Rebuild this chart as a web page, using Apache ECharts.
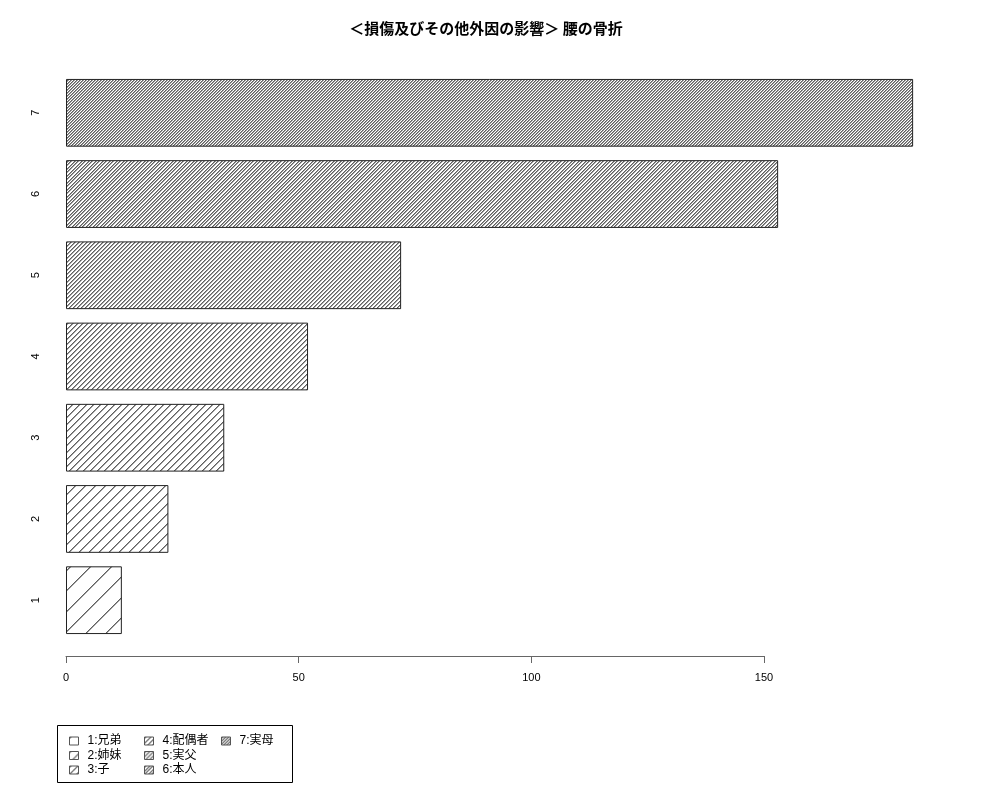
<!DOCTYPE html>
<html>
<head>
<meta charset="utf-8">
<script src="https://cdn.jsdelivr.net/npm/echarts@6/dist/echarts.min.js"></script>
<style>html,body{margin:0;padding:0;background:#fff}#c{width:1000px;height:800px}</style>
</head>
<body>
<div id="c"></div>
<script>
const titleText = '＜損傷及びその他外因の影響＞ 腰の骨折';
const categories = ['1', '2', '3', '4', '5', '6', '7'];
const values = [12, 22, 34, 52, 72, 153, 182];
const legendLabels = ['1:兄弟', '2:姉妹', '3:子', '4:配偶者', '5:実父', '6:本人', '7:実母'];
const xTicks = [0, 50, 100, 150];

// hatch densities (lines per inch) — styling only
const hatchDensity = [5, 10, 15, 20, 25, 30, 35];

// pixel-exact "/" hatch tile, emulating an antialiased 1px line (2 grey pixels per row)
function makeHatch(density) {
  const h = 72 / density * Math.SQRT2;
  let T, n;
  if (Math.abs(h - Math.round(h)) < 0.3) { T = Math.round(h); n = 1; }
  else { T = Math.round(2 * h); n = 2; }
  const pos = new Set();
  for (let k = 0; k < n; k++) pos.add(Math.round(k * T / n) % T);
  const cv = document.createElement('canvas');
  cv.width = T; cv.height = T;
  const ctx = cv.getContext('2d');
  const img = ctx.createImageData(T, T);
  for (let y = 0; y < T; y++) {
    for (let x = 0; x < T; x++) {
      const d = (x + y) % T;
      let v = 255;
      if (pos.has(d)) v = 95;
      else if (pos.has((d - 1 + T) % T)) v = 160;
      const i = (y * T + x) * 4;
      img.data[i] = v; img.data[i + 1] = v; img.data[i + 2] = v; img.data[i + 3] = 255;
    }
  }
  ctx.putImageData(img, 0, 0);
  return cv;
}

const series = legendLabels.map((name, i) => ({
  name: name,
  type: 'bar',
  xAxisIndex: 0,
  yAxisIndex: 0,
  barWidth: '83.4%',
  barGap: '-100%',
  silent: true,
  itemStyle: {
    color: { image: makeHatch(hatchDensity[i]), repeat: 'repeat' },
    borderColor: '#222',
    borderWidth: 1
  },
  data: categories.map((c, j) => (j === i ? values[i] : null))
}));

const font = 'Liberation Sans, Arial, Noto Sans CJK JP, sans-serif';
const legendBase = {
  orient: 'vertical',
  top: 729,
  icon: 'rect',
  itemWidth: 9,
  itemHeight: 8,
  itemGap: 0.5,
  selectedMode: false,
  itemStyle: { borderColor: '#555', borderWidth: 1 },
  textStyle: { fontFamily: font, fontSize: 12, color: '#000', lineHeight: 14, padding: [0, 0, 0, 4] }
};

const chart = echarts.init(document.getElementById('c'));
chart.setOption({
  animation: false,
  backgroundColor: '#fff',
  title: {
    text: titleText,
    left: 481,
    textAlign: 'center',
    top: 16,
    textStyle: { fontFamily: 'Noto Sans CJK JP, sans-serif', fontSize: 15, fontWeight: 'bold', color: '#000' }
  },
  grid: [
    { left: 66, right: 53, top: 72.2, bottom: 159.2 },
    { left: 66, right: 236, top: 57, bottom: 144 }
  ],
  xAxis: [
    { gridIndex: 0, type: 'value', min: 0, max: 189.28, show: false },
    {
      gridIndex: 1, type: 'value', min: xTicks[0], max: xTicks[xTicks.length - 1], interval: 50,
      axisLine: { show: true, lineStyle: { color: '#666', width: 1 } },
      axisTick: { show: true, length: 7, lineStyle: { color: '#666', width: 1 } },
      axisLabel: { fontFamily: font, fontSize: 11, color: '#000', margin: 16 },
      splitLine: { show: false }
    }
  ],
  yAxis: [
    {
      gridIndex: 0, type: 'category', data: categories,
      axisLine: { show: false }, axisTick: { show: false },
      axisLabel: { rotate: 90, margin: 25, fontFamily: font, fontSize: 11, color: '#000' }
    },
    { gridIndex: 1, type: 'value', show: false }
  ],
  legend: [
    Object.assign({}, legendBase, { left: 64, data: legendLabels.slice(0, 3) }),
    Object.assign({}, legendBase, { left: 139, data: legendLabels.slice(3, 6) }),
    Object.assign({}, legendBase, { left: 216, data: legendLabels.slice(6) })
  ],
  graphic: [
    { type: 'rect', shape: { x: 57.5, y: 725.5, width: 235, height: 57 }, style: { fill: 'none', stroke: '#000', lineWidth: 1 }, silent: true }
  ],
  series: series
});
</script>
</body>
</html>
